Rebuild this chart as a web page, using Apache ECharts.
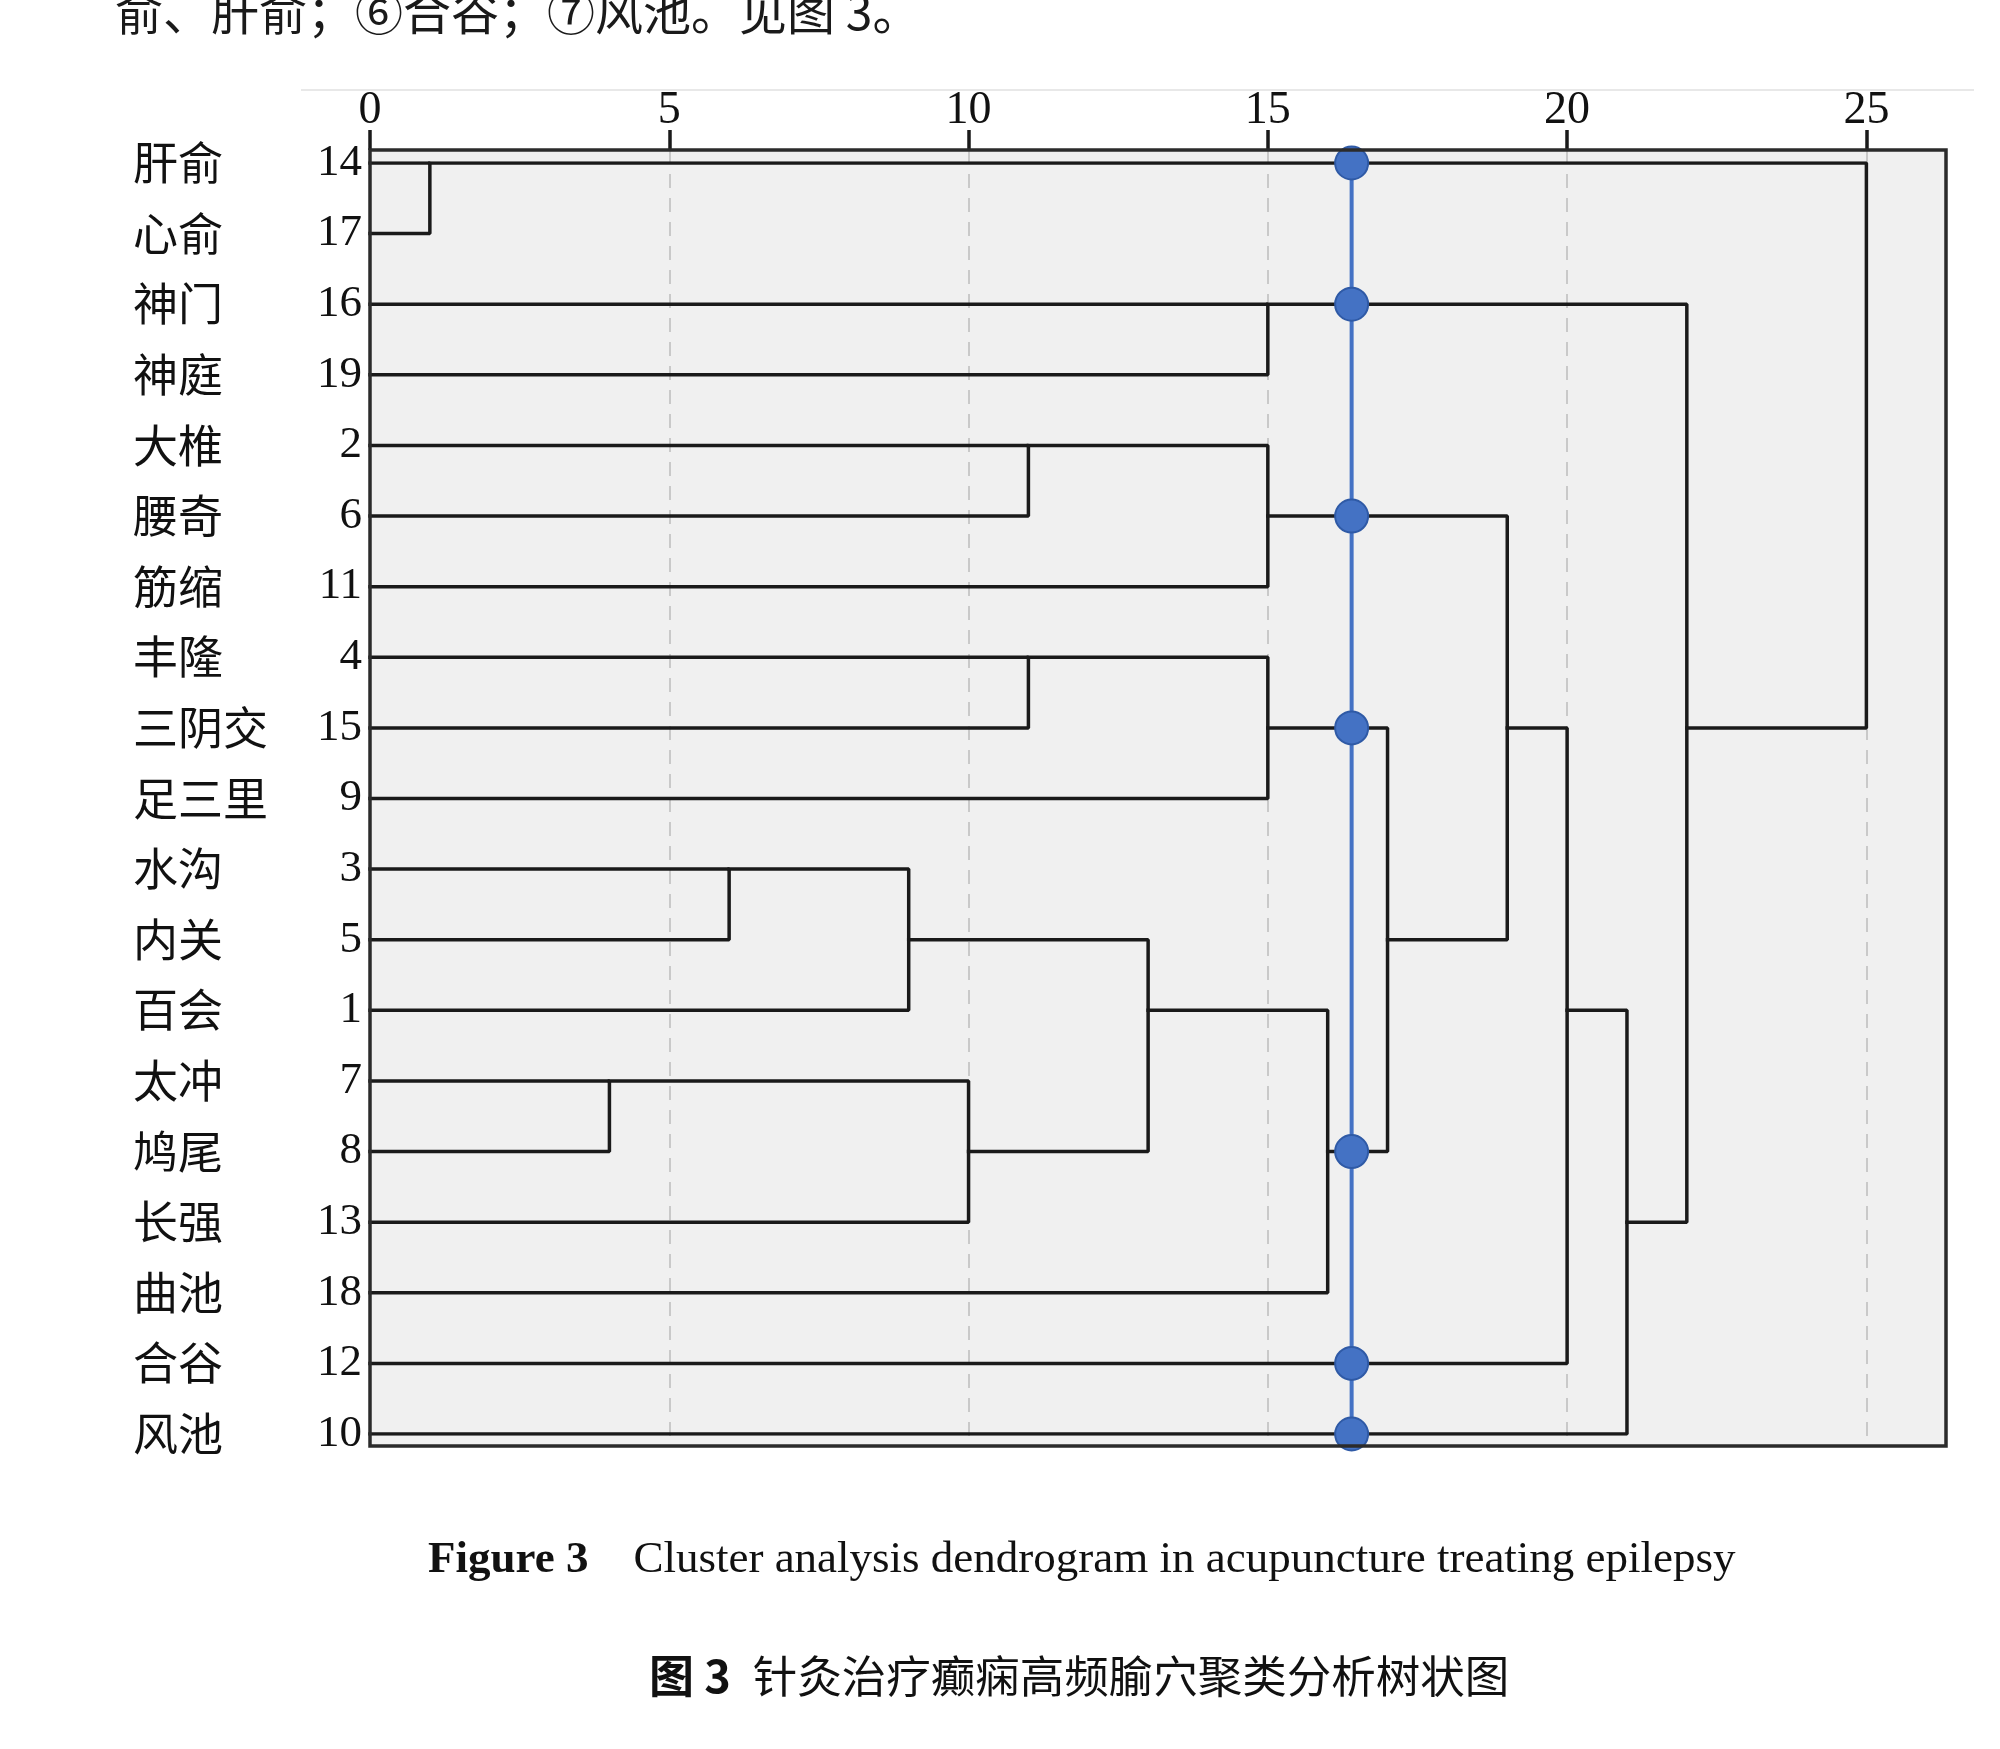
<!DOCTYPE html>
<html>
<head>
<meta charset="utf-8">
<script src="https://cdn.jsdelivr.net/npm/echarts@6/dist/echarts.min.js"></script>
<style>
html,body{margin:0;padding:0;background:#fff;}
#chart{width:2000px;height:1749px;}
</style>
</head>
<body>
<div id="chart"></div>
<script>
// ---- data ----
const rowNames = ['肝俞','心俞','神门','神庭','大椎','腰奇','筋缩','丰隆','三阴交','足三里','水沟','内关','百会','太冲','鸠尾','长强','曲池','合谷','风池'];
const caseNumbers = [14,17,16,19,2,6,11,4,15,9,3,5,1,7,8,13,18,12,10];
// [cluster A, cluster B, rescaled distance]; a number = case number, 'Mk' = result of k-th merge
const mergeSteps = [
  [14, 17, 1],      // M0
  [7, 8, 4],        // M1
  [3, 5, 6],        // M2
  ['M2', 1, 9],     // M3
  ['M1', 13, 10],   // M4
  [2, 6, 11],       // M5
  [4, 15, 11],      // M6
  ['M3', 'M4', 13], // M7
  [16, 19, 15],     // M8
  ['M5', 11, 15],   // M9
  ['M6', 9, 15],    // M10
  ['M7', 18, 16],   // M11
  ['M10', 'M11', 17],// M12
  ['M9', 'M12', 19],// M13
  ['M13', 12, 20],  // M14
  ['M14', 10, 21],  // M15
  ['M8', 'M15', 22],// M16
  ['M0', 'M16', 25] // M17
];
const cutDistance = 16.4;
const xAxisMin = 0, xAxisMax = 25, xInterval = 5;
const boxExtent = 26.33; // the framed panel reaches a bit past 25
const topText = '俞、肝俞；⑥合谷；⑦风池。见图 3。';
const captionEnBold = 'Figure 3';
const captionEn = 'Cluster analysis dendrogram in acupuncture treating epilepsy';
const captionZhBold = '图 3';
const captionZh = '针灸治疗癫痫高频腧穴聚类分析树状图';

// ---- layout constants ----
const boxLeft = 370, boxRight = 1946, boxTop = 150, boxBottom = 1446;
const rowTop = 163, rowBottom = 1434;
const gridWidth = (boxRight - boxLeft) * (xAxisMax - xAxisMin) / (boxExtent - xAxisMin);

// ---- dendrogram layout (SPSS style: node row = floor of mid row) ----
const nodePos = [];
function resolve(ref) {
  if (typeof ref === 'number') return { x: 0, y: caseNumbers.indexOf(ref) };
  return nodePos[parseInt(ref.slice(1), 10)];
}
const polylines = [];
const horizSegments = [];
mergeSteps.forEach(function (m, i) {
  const a = resolve(m[0]), b = resolve(m[1]), d = m[2];
  polylines.push([[a.x, a.y], [d, a.y], [d, b.y], [b.x, b.y]]);
  horizSegments.push([a.x, d, a.y], [b.x, d, b.y]);
  nodePos[i] = { x: d, y: Math.floor((a.y + b.y) / 2) };
});
const cutDots = horizSegments
  .filter(function (s) { return s[0] < cutDistance && s[1] > cutDistance; })
  .map(function (s) { return [cutDistance, s[2]]; });

const serif = '"Liberation Serif", "Times New Roman", serif';
const cjk = '"Noto Sans CJK SC", sans-serif';

const series = polylines.map(function (pl) {
  return {
    type: 'line', xAxisIndex: 0, yAxisIndex: 0, data: pl,
    symbol: 'none', silent: true, z: 3,
    lineStyle: { color: '#1a1a1a', width: 3.5, cap: 'square' }
  };
});
series.push({
  type: 'line', xAxisIndex: 0, yAxisIndex: 0,
  data: [[cutDistance, 0], [cutDistance, caseNumbers.length - 1]],
  symbol: 'none', silent: true, z: 4,
  lineStyle: { color: '#4472c4', width: 4 }
});
series.push({
  type: 'scatter', xAxisIndex: 0, yAxisIndex: 0, data: cutDots,
  symbolSize: 33, silent: true, z: 5,
  itemStyle: { color: '#4472c4', borderColor: '#2f5aa6', borderWidth: 2, opacity: 1 }
});

const chart = echarts.init(document.getElementById('chart'));
chart.setOption({
  backgroundColor: '#ffffff',
  animation: false,
  grid: [
    { left: boxLeft, width: gridWidth, top: rowTop, height: rowBottom - rowTop },
    // thin strip just above the framed panel that carries the distance axis ticks (pointing up)
    { left: boxLeft, width: gridWidth, top: boxTop - 20, height: 20, show: false },
    // the panel itself: tick labels and dashed vertical grid lines
    { left: boxLeft, width: gridWidth, top: boxTop, height: boxBottom - boxTop, show: false }
  ],
  xAxis: [
    { type: 'value', gridIndex: 0, min: xAxisMin, max: xAxisMax, show: false },
    { type: 'value', gridIndex: 1, position: 'bottom', min: xAxisMin, max: xAxisMax, interval: xInterval,
      axisLine: { show: false, onZero: false },
      axisTick: { show: true, inside: true, length: 20,
        lineStyle: { color: '#1a1a1a', width: 3.5 } },
      axisLabel: { show: false },
      splitLine: { show: false }
    },
    { type: 'value', gridIndex: 2, position: 'top', min: xAxisMin, max: xAxisMax, interval: xInterval,
      axisLine: { show: false, onZero: false },
      axisTick: { show: false },
      axisLabel: { show: true, margin: 25, lineHeight: 28,
        fontFamily: serif, fontSize: 46, color: '#111' },
      splitLine: { show: true, lineStyle: { color: '#c9c9c9', width: 2, type: [14, 10] } }
    }
  ],
  yAxis: [
    { type: 'category', gridIndex: 0, data: caseNumbers.map(String), inverse: true,
      boundaryGap: false, axisLine: { show: false }, axisTick: { show: false },
      splitLine: { show: false },
      axisLabel: { margin: 8, fontFamily: serif, fontSize: 45, color: '#111', interval: 0 } },
    { type: 'category', gridIndex: 0, position: 'left', data: rowNames, inverse: true,
      boundaryGap: false, axisLine: { show: false }, axisTick: { show: false },
      splitLine: { show: false },
      axisLabel: { margin: 237, align: 'left', fontFamily: cjk, fontSize: 45, color: '#111', interval: 0 } },
    { type: 'value', gridIndex: 1, min: 0, max: 1, show: false, splitLine: { show: false } },
    { type: 'value', gridIndex: 2, min: 0, max: 1, show: false, splitLine: { show: false } }
  ],
  graphic: [
    { type: 'rect', z: -10, silent: true,
      shape: { x: boxLeft, y: boxTop, width: boxRight - boxLeft, height: boxBottom - boxTop },
      style: { fill: '#f0f0f0', stroke: 'none' } },
    { type: 'rect', z: 10, silent: true,
      shape: { x: boxLeft, y: boxTop, width: boxRight - boxLeft, height: boxBottom - boxTop },
      style: { fill: 'none', stroke: '#2b2b2b', lineWidth: 3.5 } },
    { type: 'line', shape: { x1: 301, y1: 90, x2: 1974, y2: 90 },
      style: { stroke: '#e8e8e8', lineWidth: 2 }, silent: true },
    { type: 'text', x: 115, y: 12, silent: true,
      style: { text: topText, font: '48px ' + cjk, fill: '#1a1a1a', verticalAlign: 'middle' } },
    { type: 'text', x: 428, y: 1560, silent: true,
      style: {
        text: '{b|' + captionEnBold + '}{r|    ' + captionEn + '}',
        verticalAlign: 'middle', fill: '#111',
        rich: {
          b: { fontFamily: serif, fontSize: 45, fontWeight: 'bold', fill: '#111' },
          r: { fontFamily: serif, fontSize: 45, fill: '#111' }
        }
      } },
    { type: 'text', x: 649, y: 1676, silent: true,
      style: {
        text: '{b|' + captionZhBold + '}{r|' + captionZh + '}',
        verticalAlign: 'middle', fill: '#111',
        rich: {
          b: { fontFamily: cjk, fontSize: 45, fontWeight: 'bold', fill: '#111' },
          r: { fontFamily: cjk, fontSize: 44.5, fill: '#111', padding: [0, 0, 0, 22] }
        }
      } }
  ],
  series: series
});
</script>
</body>
</html>
